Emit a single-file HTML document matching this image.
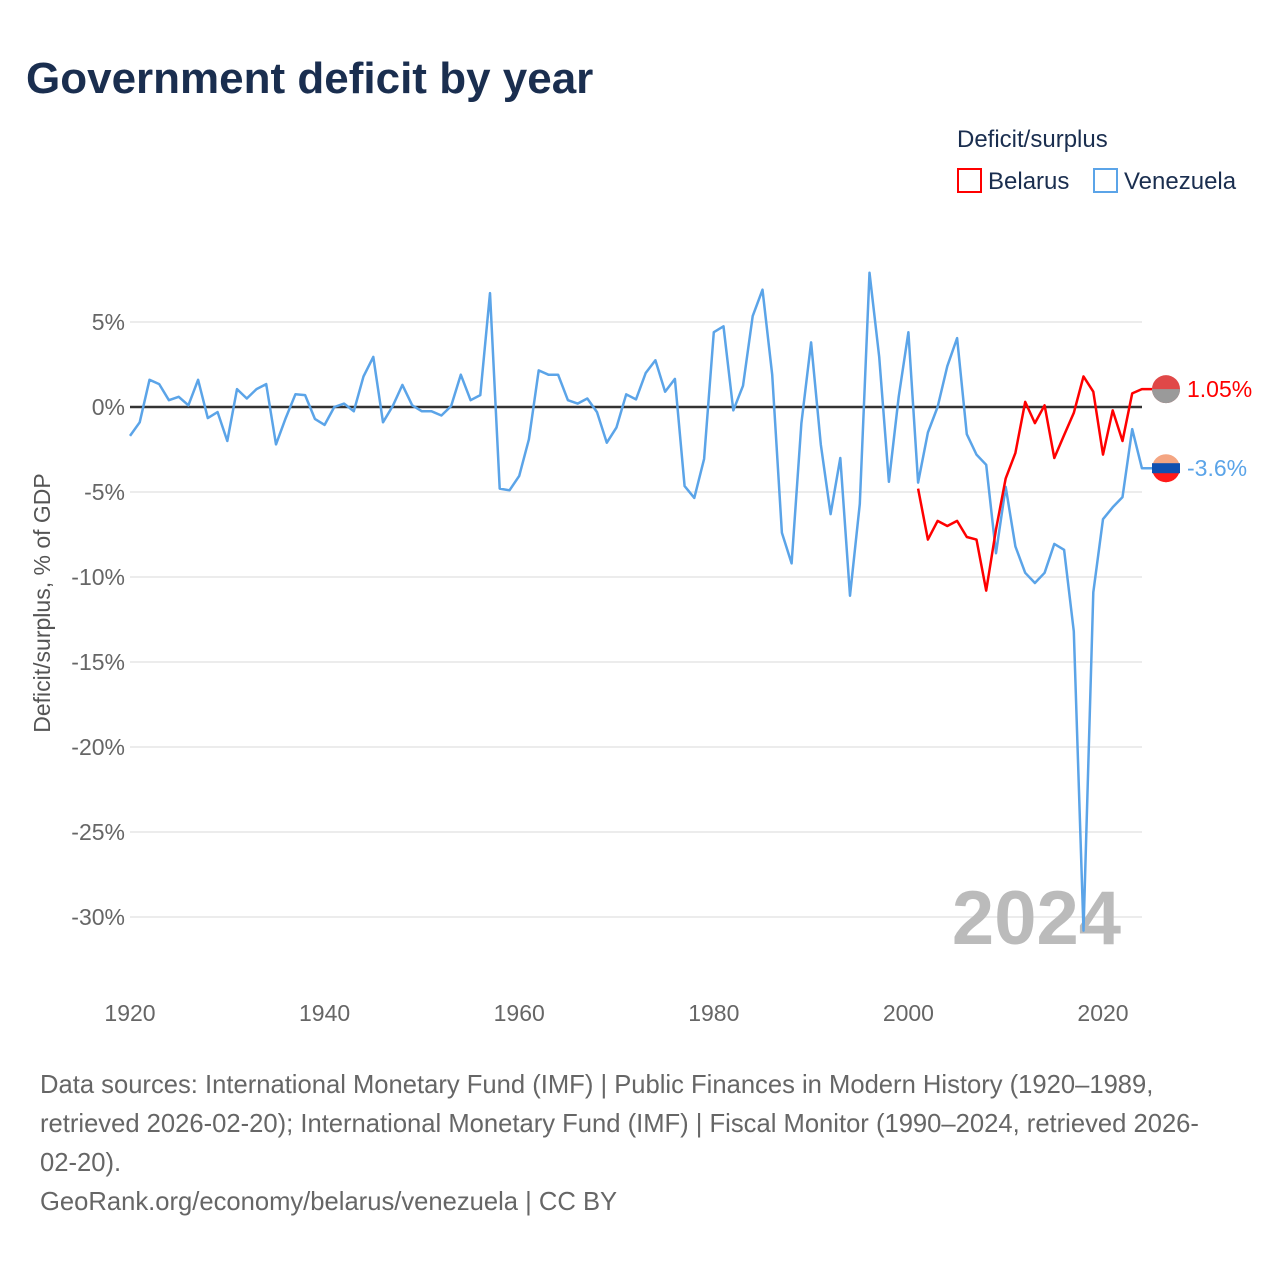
<!DOCTYPE html>
<html><head><meta charset="utf-8"><style>
body{margin:0;background:#fff;font-family:"Liberation Sans",sans-serif;}
svg text{font-family:"Liberation Sans",sans-serif;}
</style></head><body>
<svg id="chart" width="1280" height="1280" viewBox="0 0 1280 1280" xmlns="http://www.w3.org/2000/svg">
<text x="26" y="93" font-size="44" font-weight="bold" fill="#1a2e4f">Government deficit by year</text>
<text x="957" y="147" font-size="24" fill="#1a2e4f">Deficit/surplus</text>
<g><rect x="958" y="169" width="23" height="23" fill="none" stroke="#ff0000" stroke-width="2"/><text x="988" y="189" font-size="24" fill="#1a2e4f">Belarus</text></g>
<g><rect x="1094" y="169" width="23" height="23" fill="none" stroke="#5ba4e8" stroke-width="2"/><text x="1124" y="189" font-size="24" fill="#1a2e4f">Venezuela</text></g>
<g id="grid"></g>
<g id="yticks"></g>
<g id="xticks"></g>
<text x="0" y="0" transform="translate(50,603) rotate(-90)" text-anchor="middle" font-size="23" fill="#555">Deficit/surplus, % of GDP</text>
<text x="1121" y="944" text-anchor="end" font-size="76" font-weight="bold" fill="#bbb">2024</text>
<g id="series"></g>
<g id="endlabels"></g>
<g font-size="25.6" fill="#666">
<text x="40" y="1093">Data sources: International Monetary Fund (IMF) | Public Finances in Modern History (1920–1989,</text>
<text x="40" y="1132">retrieved 2026-02-20); International Monetary Fund (IMF) | Fiscal Monitor (1990–2024, retrieved 2026-</text>
<text x="40" y="1171">02-20).</text>
<text x="40" y="1210">GeoRank.org/economy/belarus/venezuela | CC BY</text>
</g>
</svg>
<script>
const yTicks=[5,0,-5,-10,-15,-20,-25,-30];
const xTicks=[1920,1940,1960,1980,2000,2020];
const venStart=1920;
const venezuela=[-1.7,-0.9,1.6,1.35,0.4,0.6,0.1,1.6,-0.65,-0.3,-2.0,1.05,0.5,1.05,1.35,-2.2,-0.65,0.75,0.7,-0.7,-1.05,0,0.2,-0.25,1.8,2.95,-0.9,0.05,1.3,0.1,-0.25,-0.25,-0.5,0.05,1.9,0.4,0.7,6.7,-4.8,-4.9,-4.05,-1.9,2.15,1.9,1.9,0.4,0.2,0.5,-0.3,-2.1,-1.2,0.75,0.45,2.0,2.75,0.9,1.65,-4.65,-5.35,-3.05,4.4,4.75,-0.2,1.25,5.35,6.9,1.9,-7.4,-9.2,-0.95,3.8,-2.2,-6.3,-3.0,-11.1,-5.7,7.9,2.95,-4.4,0.6,4.4,-4.45,-1.5,0,2.4,4.05,-1.6,-2.8,-3.4,-8.6,-4.7,-8.2,-9.75,-10.35,-9.75,-8.05,-8.4,-13.2,-30.8,-10.9,-6.6,-5.9,-5.3,-1.3,-3.6];
const belStart=2001;
const belarus=[-4.8,-7.8,-6.7,-7.0,-6.7,-7.65,-7.8,-10.8,-7.2,-4.2,-2.7,0.3,-0.95,0.1,-3.0,-1.65,-0.35,1.8,0.9,-2.8,-0.2,-2.0,0.8,1.05];
const NS="http://www.w3.org/2000/svg";
const X=yr=>130+(yr-1920)*9.73;
const Y=v=>407-v*17;
const xEnd=1142;
function mk(tag,attrs,parent){const e=document.createElementNS(NS,tag);for(const k in attrs)e.setAttribute(k,attrs[k]);parent.appendChild(e);return e;}
const grid=document.getElementById('grid'),yt=document.getElementById('yticks'),xt=document.getElementById('xticks'),ser=document.getElementById('series'),el=document.getElementById('endlabels');
yTicks.forEach(v=>{
 const l=mk('line',{x1:130,x2:xEnd,y1:Y(v),y2:Y(v),stroke:v===0?'#333':'#e6e6e6','stroke-width':v===0?2.5:1.5},grid);
 
 
 const t=mk('text',{x:125,y:Y(v)+8,'text-anchor':'end','font-size':23,fill:'#666'},yt);
 t.textContent=v+'%';
 
 
});
xTicks.forEach(yr=>{
 const t=mk('text',{x:X(yr),y:1021,'text-anchor':'middle','font-size':23,fill:'#666'},xt);
 t.textContent=yr;
 
 
});
function line(data,start,color,name){
 const pts=data.map((v,i)=>X(start+i).toFixed(1)+','+Y(v).toFixed(1));
 const last=data[data.length-1];
 pts.push('1152,'+Y(last).toFixed(1));
 const p=mk('polyline',{points:pts.join(' '),fill:'none',stroke:color,'stroke-width':2.5,'stroke-linejoin':'round'},ser);
 
 
}
line(venezuela,venStart,'#5ba4e8','venezuela');
line(belarus,belStart,'#ff0000','belarus');
function endLabel(v,color,name,top,bottom,mid){
 const cy=Y(v);
 const g=mk('g',{},el);
 
 
 mk('circle',{cx:1166,cy:cy,r:14,fill:top},g);
 mk('path',{d:`M1152,${cy} A14,14 0 0,0 1180,${cy} Z`,fill:bottom},g);
 if(mid)mk('rect',{x:1152,y:cy-5,width:28,height:10,fill:mid},g);
 const t=mk('text',{x:1187,y:cy+8,'font-size':23,fill:color},g);
 t.textContent=v+'%';
}
endLabel(belarus[belarus.length-1],'#ff0000','belarus','#e04848','#9a9a9a',null);
endLabel(venezuela[venezuela.length-1],'#5ba4e8','venezuela','#f4a582','#ff1a1a','#1050b0');
</script>
</body></html>
